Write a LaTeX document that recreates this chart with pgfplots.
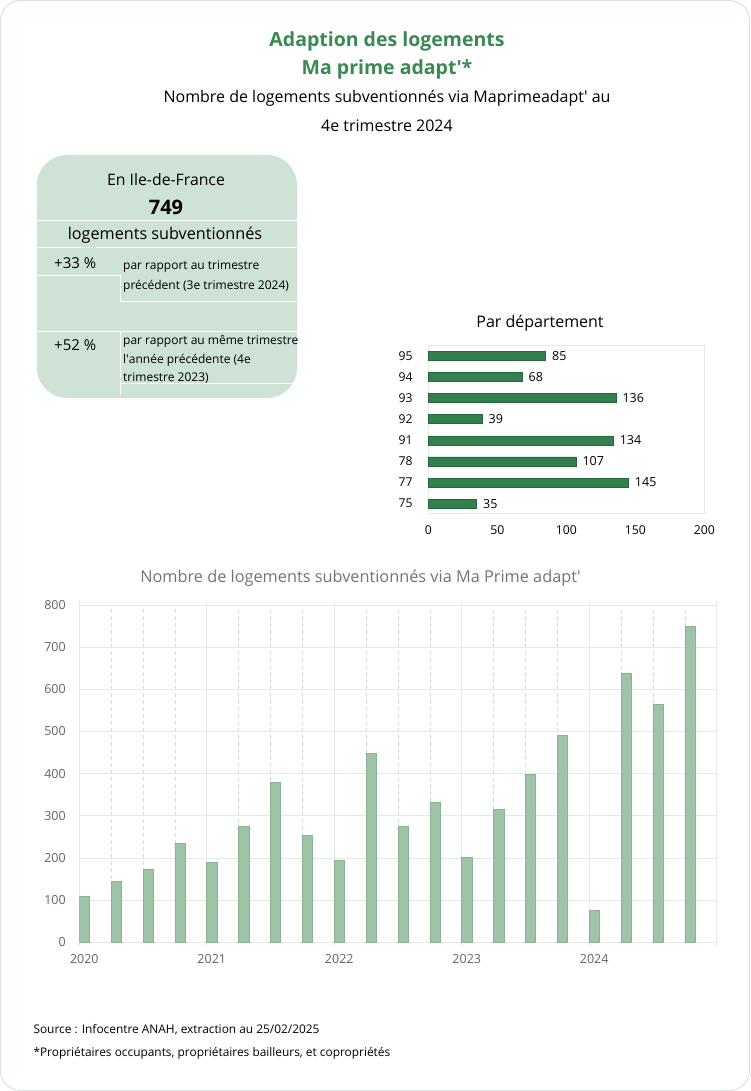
\documentclass[border=0pt]{standalone}
\usepackage{pgfplots}
\pgfplotsset{compat=1.18}
\usepackage{fontspec}
\setmainfont{Open Sans}
\definecolor{titlegreen}{RGB}{58,137,82}
\definecolor{boxgreen}{RGB}{206,226,213}
\definecolor{deptgreen}{RGB}{51,128,77}
\definecolor{deptborder}{RGB}{36,105,60}
\definecolor{barfill}{RGB}{154,192,161}
\definecolor{barborder}{RGB}{136,180,144}
\definecolor{framegray}{RGB}{218,226,221}
\definecolor{gridgray}{RGB}{232,232,232}
\definecolor{dashgray}{RGB}{218,218,218}
\definecolor{ticktext}{RGB}{100,100,100}
\definecolor{charttitle}{RGB}{115,115,115}
\begin{document}
\begin{tikzpicture}
\path[use as bounding box] (0pt,0pt) rectangle (750pt,-1091pt);
\draw[rounded corners=20pt, draw=framegray, line width=1pt] (0.5pt,-0.5pt) rectangle (749.5pt,-1090.5pt);
% titles
\node[font=\bfseries\fontsize{19.5}{22}\selectfont, text=titlegreen] at (387pt,-41pt) {Adaption des logements};
\node[font=\bfseries\fontsize{19.5}{22}\selectfont, text=titlegreen] at (387pt,-69.5pt) {Ma prime adapt\textquotesingle*};
\node[font=\fontsize{16}{18}\selectfont] at (387pt,-98pt) {Nombre de logements subventionnés via Maprimeadapt\textquotesingle{} au};
\node[font=\fontsize{16}{18}\selectfont] at (387pt,-126pt) {4e trimestre 2024};
% key figure box
\fill[boxgreen, rounded corners=30pt] (37pt,-155pt) rectangle (297pt,-398pt);
\begin{scope}
\clip[rounded corners=30pt] (37pt,-155pt) rectangle (297pt,-398pt);
\draw[white, line width=0.8pt] (37pt,-220pt) -- (297pt,-220pt);
\draw[white, line width=0.8pt] (37pt,-247pt) -- (297pt,-247pt);
\draw[white, line width=0.8pt] (37pt,-275.7pt) -- (120pt,-275.7pt) -- (120pt,-301.7pt) -- (297pt,-301.7pt);
\draw[white, line width=0.8pt] (37pt,-331pt) -- (297pt,-331pt);
\draw[white, line width=0.8pt] (120pt,-331pt) -- (120pt,-395pt);
\draw[white, line width=0.8pt] (120pt,-383pt) -- (297pt,-383pt);
\end{scope}
\node[font=\fontsize{15.8}{18}\selectfont] at (166pt,-180pt) {En Ile-de-France};
\node[font=\bfseries\fontsize{20}{22}\selectfont] at (166pt,-207pt) {749};
\node[font=\fontsize{16.2}{18}\selectfont] at (165pt,-235pt) {logements subventionnés};
\node[font=\fontsize{15}{17}\selectfont, anchor=west, inner sep=0pt] at (54pt,-263pt) {+33 \%};
\node[font=\fontsize{12}{14}\selectfont, anchor=west, inner sep=0pt] at (123pt,-267pt) {par rapport au trimestre};
\node[font=\fontsize{12}{14}\selectfont, anchor=west, inner sep=0pt] at (123pt,-286.5pt) {précédent (3e trimestre 2024)};
\node[font=\fontsize{15}{17}\selectfont, anchor=west, inner sep=0pt] at (54pt,-345pt) {+52 \%};
\node[font=\fontsize{12}{14}\selectfont, anchor=west, inner sep=0pt] at (123pt,-341.5pt) {par rapport au même trimestre};
\node[font=\fontsize{12}{14}\selectfont, anchor=west, inner sep=0pt] at (123pt,-360pt) {l\textquotesingle année précédente (4e};
\node[font=\fontsize{12}{14}\selectfont, anchor=west, inner sep=0pt] at (123pt,-378.3pt) {trimestre 2023)};
% department chart
\node[font=\fontsize{16}{18}\selectfont] at (540pt,-323pt) {Par département};
\begin{axis}[at={(428.3pt,-513.3pt)}, anchor=south west, scale only axis,
  width=276pt, height=168.3pt,
  xmin=0, xmax=200, ymin=-0.46, ymax=7.52,
  xbar, bar width=9pt,
  ytick={0,1,2,3,4,5,6,7}, yticklabels={75,77,78,91,92,93,94,95},
  xtick={0,50,100,150,200},
  axis line style={draw=gridgray},
  tick style={draw=none},
  /pgf/number format/assume math mode=true,
  ticklabel style={font=\fontsize{12.2}{14}\selectfont},
  xticklabel style={yshift=-9pt},
  yticklabel style={xshift=-8pt},
  nodes near coords,
  every node near coord/.append style={font=\fontsize{12.5}{14}\selectfont, xshift=3pt, text=black},
  clip=false]
\addplot[fill=deptgreen, draw=deptborder, line width=0.5pt] coordinates {(35,0) (145,1) (107,2) (134,3) (39,4) (136,5) (68,6) (85,7)};
\end{axis}
% quarterly chart
\node[font=\fontsize{16.3}{18}\selectfont, text=charttitle] at (360.5pt,-578pt) {Nombre de logements subventionnés via Ma Prime adapt\textquotesingle};
\begin{axis}[at={(79.3pt,-942.3pt)}, anchor=south west, scale only axis,
  width=637.4pt, height=337.3pt,
  xmin=0, xmax=20, ymin=0, ymax=800,
  ytick={0,100,...,800},
  xtick={0,4,8,12,16,20}, xticklabels={2020,2021,2022,2023,2024,},
  minor xtick={1,2,3,5,6,7,9,10,11,13,14,15,17,18,19},
  grid=both,
  major grid style={draw=gridgray, line width=0.8pt},
  minor grid style={draw=dashgray, dash pattern=on 4pt off 3pt, line width=0.6pt},
  axis line style={draw=gridgray, line width=0.8pt},
  ytick style={draw=none}, minor tick length=0pt,
  xtick style={draw=gridgray, line width=0.8pt}, tick align=outside, major tick length=4pt,
  /pgf/number format/assume math mode=true,
  ticklabel style={font=\fontsize{12.5}{14}\selectfont, text=ticktext},
  xticklabel style={yshift=-5pt, xshift=5pt},
  yticklabel style={xshift=-6pt}]
\addplot[ybar, bar width=0.32, bar shift=0.16, fill=barfill, fill opacity=0.95, draw=barborder, line width=0.6pt] coordinates {
(0,108) (1,144) (2,174) (3,235) (4,190) (5,274) (6,380) (7,253) (8,195) (9,448)
(10,275) (11,333) (12,201) (13,315) (14,399) (15,491) (16,75) (17,639) (18,564) (19,749)};
\end{axis}
% footer
\node[font=\fontsize{11.9}{14}\selectfont, anchor=west, inner sep=0pt] at (33.3pt,-1030pt) {Source : Infocentre ANAH, extraction au 25/02/2025};
\node[font=\fontsize{11.9}{14}\selectfont, anchor=west, inner sep=0pt] at (33.3pt,-1053pt) {*Propriétaires occupants, propriétaires bailleurs, et copropriétés};
\end{tikzpicture}
\end{document}
